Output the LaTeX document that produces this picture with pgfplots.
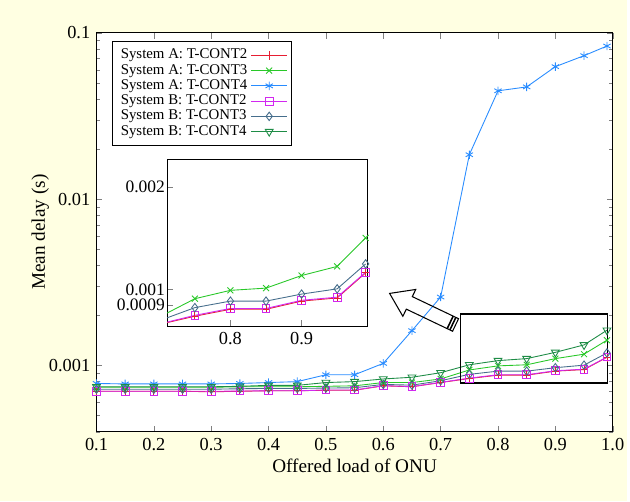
\documentclass[border=0pt]{standalone}
\usepackage{fontspec}
\setmainfont{Liberation Serif}
\usepackage{pgfplots}
\usepackage{pgfplotstable}
\pgfplotsset{compat=1.18}

\definecolor{bgyellow}{RGB}{255,255,226}
\definecolor{cA2}{RGB}{230,30,50}
\definecolor{cA3}{RGB}{40,200,40}
\definecolor{cA4}{RGB}{40,140,255}
\definecolor{cB2}{RGB}{210,40,240}
\definecolor{cB3}{RGB}{70,110,140}
\definecolor{cB4}{RGB}{30,140,70}

% mean delay (s) against offered load
\pgfplotstableread{
x     a2        a3        a4        b2        b3        b4
0.10  0.000700  0.000740  0.000780  0.000700  0.000720  0.000745
0.15  0.000700  0.000740  0.000775  0.000700  0.000720  0.000745
0.20  0.000700  0.000740  0.000775  0.000700  0.000720  0.000745
0.25  0.000700  0.000740  0.000775  0.000700  0.000720  0.000745
0.30  0.000695  0.000740  0.000775  0.000700  0.000720  0.000745
0.35  0.000700  0.000745  0.000780  0.000702  0.000725  0.000750
0.40  0.000705  0.000745  0.000790  0.000705  0.000728  0.000760
0.45  0.000705  0.000745  0.000800  0.000705  0.000728  0.000760
0.50  0.000710  0.000750  0.000880  0.000712  0.000732  0.000790
0.55  0.000710  0.000755  0.000880  0.000712  0.000735  0.000800
0.60  0.000755  0.000790  0.001030  0.000757  0.000770  0.000830
0.65  0.000745  0.000790  0.001620  0.000747  0.000762  0.000850
0.70  0.000790  0.000830  0.002580  0.000792  0.000810  0.000905
0.75  0.000835  0.000940  0.018500  0.000840  0.000885  0.001010
0.80  0.000875  0.000995  0.044800  0.000880  0.000925  0.001070
0.85  0.000875  0.001010  0.047300  0.000880  0.000925  0.001100
0.90  0.000925  0.001100  0.062600  0.000930  0.000970  0.001200
0.95  0.000945  0.001170  0.072900  0.000950  0.001005  0.001330
0.99  0.001120  0.001420  0.083300  0.001125  0.001190  0.001630
}\delaytable

\pgfplotsset{
  every axis/.append style={
    /pgf/number format/assume math mode=true,
    tick label style={font=\fontsize{10.5}{12}\selectfont},
    line width=0.5pt,
  },
  sA2/.style={color=cA2, mark=+, mark size=2.4pt, line width=0.5pt},
  sA3/.style={color=cA3, mark=x, mark size=2.4pt, line width=0.5pt},
  sA4/.style={color=cA4, mark=asterisk, mark size=2.4pt, line width=0.5pt},
  sB2/.style={color=cB2, mark=square, mark size=2.2pt, line width=0.5pt},
  sB3/.style={color=cB3, mark=diamond, mark size=2.4pt, line width=0.5pt},
  sB4/.style={color=cB4, mark=triangle, mark size=2.6pt, line width=0.5pt,
    every mark/.append style={rotate=180}},
}

\begin{document}
\begin{tikzpicture}
\fill[bgyellow] (0,0) rectangle (126mm,100.8mm);

\begin{axis}[
  at={(19.4mm,14mm)}, anchor=south west,
  scale only axis, width=103.8mm, height=80.2mm,
  axis background/.style={fill=white},
  ymode=log, log ticks with fixed point,
  xmin=0.1, xmax=1.0, ymin=0.0004, ymax=0.1,
  xtick={0.1,0.2,0.3,0.4,0.5,0.6,0.7,0.8,0.9,1.0},
  xticklabels={0.1,0.2,0.3,0.4,0.5,0.6,0.7,0.8,0.9,1.0},
  major tick length=1.2mm, minor tick length=0.7mm,
  xlabel={Offered load of ONU},
  ylabel={Mean delay (s)},
  label style={font=\fontsize{11}{13}\selectfont},
  xlabel style={at={(axis description cs:0.5,-0.085)}, anchor=center},
  ylabel style={at={(axis description cs:-0.109,0.5)}, anchor=center},
  legend plot pos=right,
  legend cell align=left,
  legend image code/.code={\draw[mark repeat=2,mark phase=2]
    plot coordinates {(0cm,0cm) (0.36cm,0cm) (0.72cm,0cm)};},
  legend style={at={(0.031,0.98)}, anchor=north west, draw=black,
    font=\fontsize{8.5}{9.6}\selectfont, row sep=-2.4pt, inner sep=2.5pt},
]
\addplot[sA2] table[x=x, y=a2] {\delaytable};
\addplot[sA3] table[x=x, y=a3] {\delaytable};
\addplot[sA4] table[x=x, y=a4] {\delaytable};
\addplot[sB2] table[x=x, y=b2] {\delaytable};
\addplot[sB3] table[x=x, y=b3] {\delaytable};
\addplot[sB4] table[x=x, y=b4] {\delaytable};
\legend{System A: T-CONT2, System A: T-CONT3, System A: T-CONT4,
        System B: T-CONT2, System B: T-CONT3, System B: T-CONT4}
\draw[black, line width=0.7pt] (axis cs:0.734,0.000785) rectangle (axis cs:0.9908,0.00204);
\end{axis}

% pointer arrow toward the zoomed view
\begin{scope}[shift={(0,100.8mm)}, x=0.2mm, y=-0.2mm]
  \draw[black, line width=0.6pt, line join=miter]
    (391.7,295) -- (418,291) -- (414.5,298.2) -- (461,320.4) -- (455,333)
    -- (408.5,310.8) -- (405,318) -- cycle;
  \draw[black, line width=0.9pt] (452.3,331.7) -- (458.3,319.1);
  \draw[black, line width=0.9pt] (449.6,330.4) -- (455.6,317.8);
\end{scope}

\begin{axis}[
  at={(33.6mm,35.2mm)}, anchor=south west,
  scale only axis, width=40.2mm, height=33.6mm,
  axis background/.style={fill=white},
  ymode=log,
  xmin=0.711, xmax=0.992, ymin=0.00078, ymax=0.00242,
  xtick={0.8,0.9}, xticklabels={0.8,0.9},
  ytick={0.0009,0.001,0.002}, yticklabels={0.0009,0.001,0.002},
  yminorticks=false,
  xtick pos=bottom, ytick pos=left,
  major tick length=1.2mm,
  y tick label style={font=\fontsize{10}{11}\selectfont, inner sep=1pt},
]
\addplot[sA2] table[x=x, y=a2] {\delaytable};
\addplot[sA3] table[x=x, y=a3] {\delaytable};
\addplot[sB2] table[x=x, y=b2] {\delaytable};
\addplot[sB3] table[x=x, y=b3] {\delaytable};
\end{axis}
\end{tikzpicture}
\end{document}
